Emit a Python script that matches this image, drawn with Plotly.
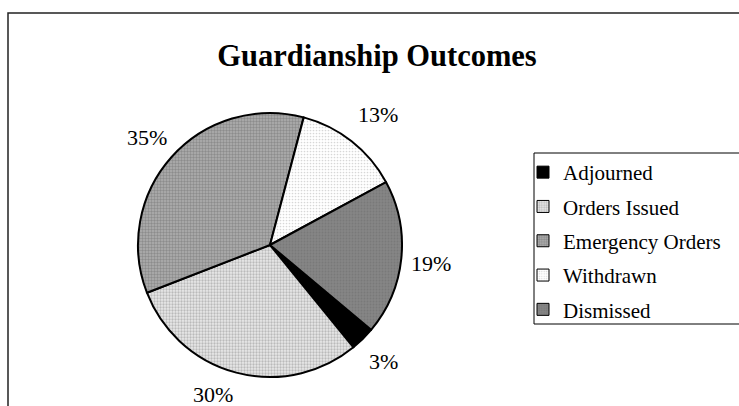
import plotly.graph_objects as go

# ---- data ----
categories = ["Adjourned", "Orders Issued", "Emergency Orders", "Withdrawn", "Dismissed"]
values = [3, 30, 35, 13, 19]

# ---- styles ----
W, H = 739, 406
bg_colors = ["#000000", "#e8e8e8", "#b0b0b0", "#ffffff", "#858585"]
fg_colors = ["#000000", "#8c8c8c", "#686868", "#b0b0b0", "#6e6e6e"]
shapes_pat = ["", ".", ".", ".", "."]
solidity = [0.3, 0.45, 0.5, 0.25, 0.3]
FONT = "Liberation Serif, Times New Roman, serif"

def px(x):
    return x / W

def py(y):
    return 1 - y / H

# label positions (pixel centers) for each slice, same order as categories
label_pos = [(383, 361), (213, 394), (147, 137), (378, 114), (431, 263)]

fig = go.Figure()

fig.add_trace(go.Pie(
    labels=categories,
    values=values,
    sort=False,
    direction="clockwise",
    rotation=130,
    textinfo="none",
    hoverinfo="label+percent",
    showlegend=False,
    domain=dict(x=[px(138), px(402)], y=[py(377), py(113)]),
    marker=dict(
        colors=bg_colors,
        line=dict(color="#000000", width=2),
        pattern=dict(shape=shapes_pat, fgcolor=fg_colors, bgcolor=bg_colors,
                     size=3, solidity=solidity, fillmode="overlay"),
    ),
))

# legend entries (one per category, each in its own group for spacing)
for i, c in enumerate(categories):
    fig.add_trace(go.Bar(
        x=[None], y=[None], name=c, legendgroup=c, showlegend=True,
        marker=dict(color=bg_colors[i], line=dict(color="#000000", width=1),
                    pattern=dict(shape=shapes_pat[i], fgcolor=fg_colors[i],
                                 bgcolor=bg_colors[i], size=3, solidity=solidity[i],
                                 fillmode="overlay")),
    ))

total = sum(values)
annotations = []
for (x, y), v in zip(label_pos, values):
    annotations.append(dict(
        x=px(x), y=py(y), xref="paper", yref="paper",
        text=f"{round(v / total * 100)}%", showarrow=False,
        xanchor="center", yanchor="middle",
        font=dict(family=FONT, size=22, color="#000000"),
    ))

fig.update_layout(
    width=W, height=H,
    margin=dict(l=0, r=0, t=0, b=0),
    paper_bgcolor="#ffffff", plot_bgcolor="#ffffff",
    xaxis=dict(visible=False), yaxis=dict(visible=False),
    title=dict(text="<b>Guardianship Outcomes</b>", x=px(377), y=py(55),
               xanchor="center", yanchor="middle",
               font=dict(family=FONT, size=30.5, color="#000000")),
    legend=dict(x=px(523), y=py(152), xanchor="left", yanchor="top",
                traceorder="grouped", tracegroupgap=4,
                bgcolor="rgba(0,0,0,0)", borderwidth=0,
                font=dict(family=FONT, size=21, color="#000000")),
    annotations=annotations,
    shapes=[
        dict(type="rect", xref="paper", yref="paper",
             x0=px(8), x1=1.1, y0=py(13), y1=-0.1,
             line=dict(color="#222222", width=1.5), layer="below"),
        dict(type="rect", xref="paper", yref="paper",
             x0=px(534), x1=1.1, y0=py(153), y1=py(324),
             line=dict(color="#000000", width=1), layer="below"),
    ],
    hovermode=False,
)

fig.write_html("out.html")
